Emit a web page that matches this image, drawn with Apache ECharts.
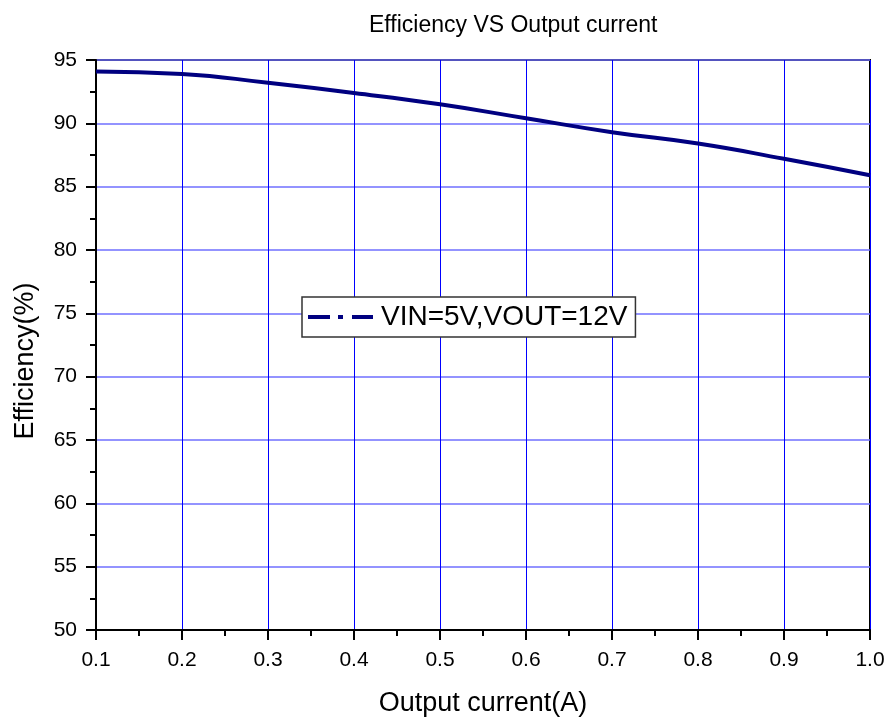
<!DOCTYPE html>
<html>
<head>
<meta charset="utf-8">
<script src="https://cdn.jsdelivr.net/npm/echarts@6/dist/echarts.min.js"></script>
<style>html,body{margin:0;padding:0;background:#fff}#c{width:888px;height:722px}</style>
</head>
<body>
<div id="c"></div>
<script>
var xValues = [0.1, 0.2, 0.3, 0.4, 0.5, 0.6, 0.7, 0.8, 0.9, 1.0];
var efficiency = [94.1, 93.9, 93.2, 92.4, 91.5, 90.4, 89.3, 88.4, 87.2, 85.9];
var seriesName = 'VIN=5V,VOUT=12V';

var chart = echarts.init(document.getElementById('c'));
var font = 'Liberation Sans, Arial, sans-serif';
chart.setOption({
  animation: false,
  backgroundColor: '#fff',
  title: {
    text: 'Efficiency VS Output current',
    left: 364, top: 9,
    textStyle: {fontFamily: font, fontSize: 23, fontWeight: 'normal', color: '#000'}
  },
  grid: {left: 96, right: 18, top: 60, bottom: 92, show: true, borderColor: '#000', borderWidth: 2, backgroundColor: 'transparent'},
  legend: {
    left: 302, top: 297,
    orient: 'horizontal',
    padding: [6, 8, 6, 6],
    borderColor: '#333', borderWidth: 1.5, backgroundColor: '#fff',
    itemWidth: 65, itemHeight: 4, itemGap: 0,
    symbolKeepAspect: false,
    data: [{name: seriesName, icon: 'path://M0,0H22V4H0Z M30,0H35V4H30Z M44,0H65V4H44Z'}],
    textStyle: {fontFamily: font, fontSize: 28, color: '#000', padding: [0, 0, 0, 3]}
  },
  xAxis: {
    type: 'value', min: 0.1, max: 1.0, interval: 0.1,
    name: 'Output current(A)', nameLocation: 'middle', nameGap: 60,
    nameTextStyle: {fontFamily: font, fontSize: 27, color: '#000'},
    axisLine: {show: true, lineStyle: {color: '#000', width: 2}},
    axisTick: {show: true, length: 10, lineStyle: {color: '#000', width: 2}},
    minorTick: {show: true, splitNumber: 2, length: 6, lineStyle: {color: '#000', width: 2}},
    axisLabel: {fontFamily: font, fontSize: 21, color: '#000', margin: 20, formatter: function (v) { return v.toFixed(1); }},
    splitLine: {show: true, lineStyle: {color: '#0000ff', width: 1}}
  },
  yAxis: {
    type: 'value', min: 50, max: 95, interval: 5,
    name: 'Efficiency(%)', nameLocation: 'middle', nameGap: 57,
    nameTextStyle: {fontFamily: font, fontSize: 27, color: '#000', padding: [0, 32, 0, 0]},
    axisLine: {show: true, lineStyle: {color: '#000', width: 2}},
    axisTick: {show: true, length: 10, lineStyle: {color: '#000', width: 2}},
    minorTick: {show: true, splitNumber: 2, length: 6, lineStyle: {color: '#000', width: 2}},
    axisLabel: {fontFamily: font, fontSize: 21, color: '#000', margin: 19},
    splitLine: {show: true, lineStyle: {color: '#6f6fff', width: 1.5}}
  },
  series: [{
    name: seriesName,
    type: 'line',
    smooth: true,
    symbol: 'none',
    data: xValues.map(function (x, i) { return [x, efficiency[i]]; }),
    lineStyle: {color: '#000080', width: 4},
    itemStyle: {color: '#000080'}
  }]
});
</script>
</body>
</html>
